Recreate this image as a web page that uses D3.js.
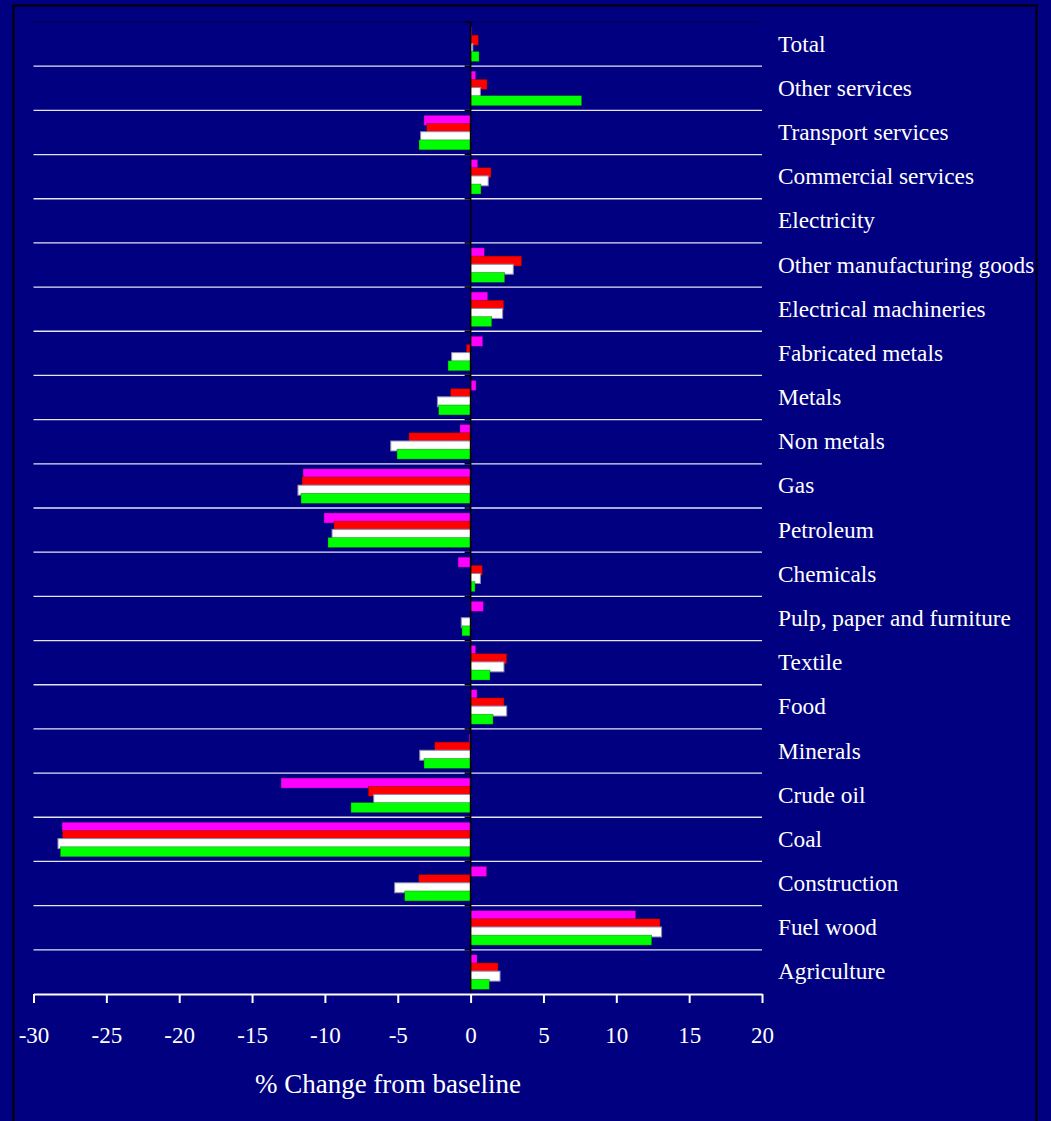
<!DOCTYPE html>
<html>
<head>
<meta charset="utf-8">
<script src="https://cdn.jsdelivr.net/npm/d3@7/dist/d3.min.js"></script>
<style>
  html, body { margin: 0; padding: 0; background: #000080; }
  svg { display: block; }
</style>
</head>
<body>
<svg id="chart" width="1051" height="1121"></svg>
<script>
// Sectors, listed top to bottom
const categories = [
  "Total", "Other services", "Transport services", "Commercial services",
  "Electricity", "Other manufacturing goods", "Electrical machineries",
  "Fabricated metals", "Metals", "Non metals", "Gas", "Petroleum",
  "Chemicals", "Pulp, paper and furniture", "Textile", "Food", "Minerals",
  "Crude oil", "Coal", "Construction", "Fuel wood", "Agriculture"
];

// % change from baseline, one array per scenario (same order as categories)
const seriesMagenta = [0.08, 0.35, -3.2, 0.49, 0, 0.94, 1.17, 0.83, 0.37, -0.73, -11.5, -10.06, -0.86, 0.87, 0.35, 0.44, -0.1, -13.01, -28.04, 1.1, 11.33, 0.44];
const seriesRed     = [0.53, 1.13, -3.01, 1.40, 0, 3.5, 2.27, -0.29, -1.37, -4.23, -11.57, -9.38, 0.8, 0, 2.48, 2.29, -2.46, -7.02, -28.0, -3.56, 13.0, 1.88];
const seriesWhite   = [0.15, 0.67, -3.43, 1.21, 0, 2.93, 2.2, -1.3, -2.28, -5.48, -11.85, -9.51, 0.67, -0.64, 2.29, 2.48, -3.49, -6.65, -28.32, -5.21, 13.11, 2.02];
const seriesGreen   = [0.58, 7.62, -3.54, 0.71, 0, 2.34, 1.45, -1.55, -2.19, -5.05, -11.64, -9.79, 0.3, -0.59, 1.33, 1.54, -3.2, -8.21, -28.16, -4.52, 12.43, 1.28];

const xTicks = [-30, -25, -20, -15, -10, -5, 0, 5, 10, 15, 20];
const xTitle = "% Change from baseline";

const FONT = '"Liberation Serif", "Times New Roman", serif';

const series = [
  { key: "m", values: seriesMagenta, fill: "#ff00ff", stroke: "rgba(90,0,90,0.6)" },
  { key: "r", values: seriesRed,     fill: "#ff0000", stroke: "rgba(100,0,0,0.6)" },
  { key: "w", values: seriesWhite,   fill: "#ffffff", stroke: "#8a8ab0" },
  { key: "g", values: seriesGreen,   fill: "#00ff00", stroke: "rgba(0,90,0,0.6)" }
];

const svg = d3.select("#chart");

// outer frame
svg.append("rect")
  .attr("x", 13.5).attr("y", 5.5)
  .attr("width", 1023).attr("height", 1200)
  .attr("fill", "#000080").attr("stroke", "#000").attr("stroke-width", 2);

const plot = { left: 33.5, right: 762, top: 22, bottom: 994 };

const x = d3.scaleLinear().domain([-30, 20]).range([plot.left, plot.right]);
const y = d3.scaleBand().domain(categories).range([plot.top, plot.bottom]);
const bw = y.bandwidth();

// slot positions of the four bars inside a category band (slightly overlapping)
const sub = d3.scaleBand().domain(series.map(s => s.key))
  .range([0.113 * bw, 0.113 * bw + 4 * 0.185 * bw]);
const barH = sub.step() * 1.22;

// band separators
svg.append("g").selectAll("line")
  .data(categories.slice(1))
  .join("line")
  .attr("x1", plot.left).attr("x2", plot.right)
  .attr("y1", d => y(d)).attr("y2", d => y(d))
  .attr("stroke", "#e4e4f4").attr("stroke-width", 1.3);

svg.append("line")
  .attr("x1", plot.left).attr("x2", plot.right)
  .attr("y1", plot.top).attr("y2", plot.top)
  .attr("stroke", "#00005e").attr("stroke-width", 1.3);

// bars, drawn series by series so later ones sit on top
series.forEach(s => {
  svg.append("g").selectAll("rect")
    .data(categories.map((c, i) => ({ c, v: s.values[i] })))
    .join("rect")
    .attr("x", d => x(Math.min(0, d.v)))
    .attr("width", d => Math.abs(x(d.v) - x(0)))
    .attr("y", d => y(d.c) + sub(s.key))
    .attr("height", barH)
    .attr("fill", s.fill)
    .attr("stroke", d => d.v === 0 ? "none" : s.stroke)
    .attr("stroke-width", s.key === "w" ? 1 : 0.6);
});

// category axis at zero, with ticks at band boundaries
const yAxis = svg.append("g");
yAxis.append("line")
  .attr("x1", x(0)).attr("x2", x(0))
  .attr("y1", plot.top).attr("y2", plot.bottom)
  .attr("stroke", "#000").attr("stroke-width", 1.6);
yAxis.selectAll("line.tick")
  .data(categories)
  .join("line")
  .attr("class", "tick")
  .attr("x1", x(0) - 6).attr("x2", x(0))
  .attr("y1", d => y(d)).attr("y2", d => y(d))
  .attr("stroke", "#000").attr("stroke-width", 1.6);

// category labels
svg.append("g").selectAll("text")
  .data(categories)
  .join("text")
  .attr("x", 778)
  .attr("y", d => y(d) + bw / 2 + 7.5)
  .style("font-family", FONT)
  .style("font-size", "23.3px")
  .style("fill", "#fff")
  .text(d => d);

// value axis
const xAxis = svg.append("g")
  .attr("transform", `translate(0,${plot.bottom})`)
  .call(d3.axisBottom(x).tickValues(xTicks).tickFormat(d => String(d))
    .tickSize(9).tickSizeOuter(0).tickPadding(24));
xAxis.attr("font-family", null).attr("font-size", null);
xAxis.select(".domain").attr("stroke", "#fff").attr("stroke-width", 2);
xAxis.selectAll(".tick line").attr("stroke", "#fff").attr("stroke-width", 2);
xAxis.selectAll(".tick text")
  .style("fill", "#fff")
  .style("font-family", FONT)
  .style("font-size", "23px");

svg.append("text")
  .attr("x", 388).attr("y", 1093)
  .attr("text-anchor", "middle")
  .style("font-family", FONT)
  .style("font-size", "27px")
  .style("fill", "#fff")
  .text(xTitle);
</script>
</body>
</html>
